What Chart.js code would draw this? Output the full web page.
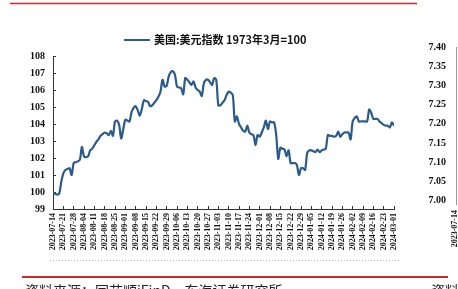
<!DOCTYPE html>
<html>
<head>
<meta charset="utf-8">
<script src="https://cdn.jsdelivr.net/npm/chart.js@4.4.0/dist/chart.umd.min.js"></script>
<style>
    html, body { margin: 0; padding: 0; background: #fff; }
    #wrap { position: relative; width: 458px; height: 289px; overflow: hidden; }
</style>
</head>
<body>
<div id="wrap"><canvas id="dxyChart" width="458" height="289"></canvas></div>
<script>
const seriesName = '美国:美元指数 1973年3月=100';
const sourceText = '资料来源：同花顺iFinD，东海证券研究所';

// one label per week, the series itself is daily (trading days)
const weekLabels = [
    '2023-07-14', '2023-07-21', '2023-07-28', '2023-08-04', '2023-08-11', '2023-08-18',
    '2023-08-25', '2023-09-01', '2023-09-08', '2023-09-15', '2023-09-22', '2023-09-29',
    '2023-10-06', '2023-10-13', '2023-10-20', '2023-10-27', '2023-11-03', '2023-11-10',
    '2023-11-17', '2023-11-24', '2023-12-01', '2023-12-08', '2023-12-15', '2023-12-22',
    '2023-12-29', '2024-01-05', '2024-01-12', '2024-01-19', '2024-01-26', '2024-02-02',
    '2024-02-09', '2024-02-16', '2024-02-23', '2024-03-01'
];

const dxyValues = [
    100.0, 99.9, 99.85, 99.9, 100.6, 101.1, 101.3, 101.35, 101.4, 101.0,
    101.7, 101.75, 101.8, 101.9, 102.65, 102.1, 102.05, 102.1, 102.45, 102.55,
    102.75, 102.95, 103.1, 103.3, 103.4, 103.5, 103.45, 103.35, 103.6, 103.3,
    104.15, 104.2, 103.95, 103.15, 103.7, 104.25, 104.2, 104.15, 104.7, 104.95,
    105.05, 104.8, 104.5, 104.9, 105.4, 105.35, 105.3, 105.05, 105.1, 105.25,
    105.4, 105.6, 105.9, 106.6, 106.2, 106.25, 106.8, 107.05, 107.1, 106.9,
    106.2, 106.15, 106.1, 105.75, 106.7, 106.6, 106.45, 106.3, 106.5, 106.15,
    106.0, 105.9, 105.65, 106.4, 106.6, 106.6, 106.45, 106.3, 106.7, 106.6,
    105.1, 105.1, 105.25, 105.4, 105.7, 105.9, 105.85, 105.7, 104.15, 104.45,
    104.0, 103.8, 103.6, 103.55, 103.9, 103.5, 103.4, 103.35, 102.75, 103.35,
    103.25, 103.5, 103.8, 104.2, 103.7, 104.15, 104.1, 104.1, 103.35, 101.95,
    102.6, 102.55, 102.5, 102.1, 102.45, 101.7, 101.7, 101.7, 101.6, 101.0,
    101.4, 101.4, 101.3, 102.3, 102.45, 102.45, 102.4, 102.35, 102.5, 102.35,
    102.45, 102.5, 102.55, 103.35, 103.3, 103.3, 103.25, 103.3, 103.55, 103.25,
    103.4, 103.5, 103.5, 103.5, 103.1, 104.15, 104.35, 104.45, 104.15, 104.15,
    104.15, 104.15, 104.15, 104.85, 104.65, 104.3, 104.3, 104.3, 104.15, 104.05,
    103.95, 103.9, 103.9, 103.8, 104.1, 103.9
];

// axis of the neighbouring (cropped) chart on the right
const rightTickLabels = ['7.40', '7.35', '7.30', '7.25', '7.20', '7.15', '7.10', '7.05', '7.00'];

const lineBlue = '#2b5b8c';
const numFont = '"Liberation Serif", "DejaVu Serif", serif';
const cjkFont = '"Noto Sans CJK SC", sans-serif';

const decorations = {
    id: 'decorations',
    afterDraw(chart) {
        const c = chart.ctx;
        c.save();

        // red rules top and bottom
        c.strokeStyle = '#d0262a';
        c.lineWidth = 1.5;
        c.beginPath(); c.moveTo(10, 3.5); c.lineTo(417, 3.5); c.stroke();
        c.lineWidth = 2;
        c.beginPath(); c.moveTo(22, 277); c.lineTo(448, 277); c.stroke();

        // dotted separator
        c.strokeStyle = '#b8b8b8';
        c.lineWidth = 1;
        c.setLineDash([1, 2]);
        c.beginPath(); c.moveTo(50, 260.5); c.lineTo(400, 260.5); c.stroke();
        c.setLineDash([]);

        // legend
        c.strokeStyle = lineBlue;
        c.lineWidth = 2;
        c.beginPath(); c.moveTo(124, 40); c.lineTo(150, 40); c.stroke();
        c.fillStyle = '#111';
        c.font = 'bold 11px ' + cjkFont;
        c.textAlign = 'left';
        c.textBaseline = 'middle';
        c.fillText(seriesName, 154, 40);

        // source line (cut by the bottom edge)
        c.font = '14px ' + cjkFont;
        c.textBaseline = 'alphabetic';
        c.fillStyle = '#222';
        c.fillText(sourceText, 25, 296);
        c.fillText('资料', 431, 296);

        // right fragment
        c.font = 'bold 10px ' + numFont;
        c.textAlign = 'right';
        c.textBaseline = 'middle';
        c.fillStyle = '#111';
        rightTickLabels.forEach((t, i) => c.fillText(t, 446, 47.5 + i * 19.1));
        c.strokeStyle = '#999';
        c.lineWidth = 1;
        c.beginPath(); c.moveTo(456.5, 47); c.lineTo(456.5, 205); c.stroke();
        c.translate(455, 210);
        c.rotate(-Math.PI / 2);
        c.font = 'bold 8px ' + numFont;
        c.textAlign = 'right';
        c.fillText(weekLabels[0], 0, 0);

        c.restore();
    }
};

document.addEventListener('DOMContentLoaded', () => {
    const ctx = document.getElementById('dxyChart').getContext('2d');
    new Chart(ctx, {
        type: 'line',
        data: {
            datasets: [{
                label: seriesName,
                data: dxyValues.map((v, i) => ({ x: i, y: v })),
                borderColor: lineBlue,
                borderWidth: 2.2,
                pointRadius: 0,
                tension: 0.3,
                fill: false
            }]
        },
        options: {
            responsive: false,
            animation: false,
            layout: {
                padding: { left: 0, top: 56, right: 64, bottom: 34 }
            },
            plugins: {
                legend: { display: false },
                tooltip: { enabled: false }
            },
            scales: {
                x: {
                    type: 'linear',
                    min: 0,
                    max: dxyValues.length - 1,
                    afterFit: s => { s.height = 46; },
                    border: { color: '#333', width: 1 },
                    grid: { drawOnChartArea: false, tickLength: -3, color: '#333' },
                    ticks: {
                        stepSize: 5,
                        maxTicksLimit: 40,
                        autoSkip: false,
                        minRotation: 90,
                        maxRotation: 90,
                        padding: 7,
                        color: '#111',
                        font: { family: numFont, size: 8, weight: 'bold' },
                        callback: v => weekLabels[v / 5] || ''
                    }
                },
                y: {
                    min: 99,
                    max: 108,
                    afterFit: s => { s.width = 53; },
                    border: { color: '#333', width: 1 },
                    grid: { drawOnChartArea: false, tickLength: -3, color: '#333' },
                    ticks: {
                        stepSize: 1,
                        padding: 11,
                        color: '#111',
                        font: { family: numFont, size: 10, weight: 'bold' }
                    }
                }
            }
        },
        plugins: [decorations]
    });
});
</script>
</body>
</html>
